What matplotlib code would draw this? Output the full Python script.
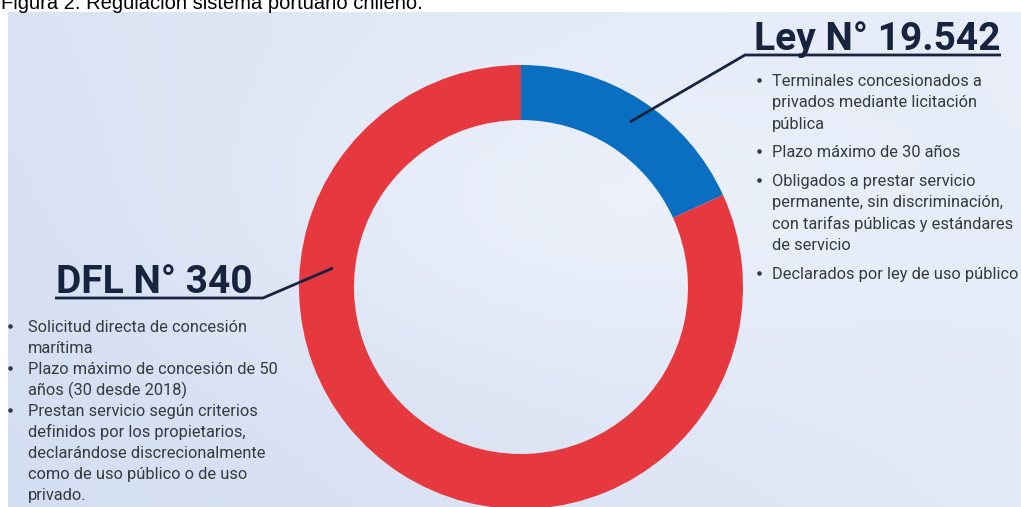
import numpy as np
import matplotlib.pyplot as plt

# data
labels = ['Ley N° 19.542', 'DFL N° 340']
shares = [18.2, 81.8]
colors = ['#0b6fc1', '#e5383f']

title = 'Figura 2. Regulación sistema portuario chileno.'

ley_items = [
    ['Terminales concesionados a', 'privados mediante licitación', 'pública'],
    ['Plazo máximo de 30 años'],
    ['Obligados a prestar servicio', 'permanente, sin discriminación,',
     'con tarifas públicas y estándares', 'de servicio'],
    ['Declarados por ley de uso público'],
]
dfl_items = [
    ['Solicitud directa de concesión', 'marítima'],
    ['Plazo máximo de concesión de 50', 'años (30 desde 2018)'],
    ['Prestan servicio según criterios', 'definidos por los propietarios,',
     'declarándose discrecionalmente', 'como de uso público o de uso',
     'privado.'],
]

W, H = 1021, 507
fig = plt.figure(figsize=(W / 100, H / 100), dpi=100)
ax = fig.add_axes([0, 0, 1, 1])


def Y(yp):
    # pixel row (from top) -> data y
    return H - yp


# soft watercolor-like background panel
gx, gy = np.meshgrid(np.linspace(0, 1, 200), np.linspace(0, 1, 100))
bg = 0.45 * gx + 0.2 * (1 - gy) + 0.35 * np.exp(-((gx - 0.55) ** 2 + (gy - 0.4) ** 2) / 0.1)
cmap = plt.matplotlib.colors.LinearSegmentedColormap.from_list('bg', ['#d4def2', '#ebf0fa'])
ax.imshow(bg, extent=[8, W, 0, Y(12)], cmap=cmap, origin='upper', aspect='auto', zorder=0)

cx, cy, r = 521, 287, 222
ax.pie(shares, colors=colors, startangle=90, counterclock=False,
       center=(cx, Y(cy)), radius=r, wedgeprops=dict(width=55, linewidth=0))

ax.set_xlim(0, W)
ax.set_ylim(0, H)
ax.set_aspect('auto')
ax.axis('off')

navy = '#17233f'
txt = '#36393e'

# leader lines + underlines
ax.plot([630, 745, 1001], [Y(122), Y(55), Y(55)], color=navy, lw=2, solid_capstyle='butt', zorder=5)
ax.plot([333, 263, 55], [Y(268), Y(298), Y(298)], color=navy, lw=2, solid_capstyle='butt', zorder=5)

ax.text(754, Y(50), labels[0], fontsize=28, fontweight='bold', color=navy,
        family='Roboto', va='baseline', ha='left')
ax.text(56, Y(293), labels[1], fontsize=28, fontweight='bold', color=navy,
        family='Roboto', va='baseline', ha='left')

fam = ['Roboto', 'DejaVu Sans']


def bullets(items, x_dot, x_txt, y0, step, gap):
    y = y0
    for item in items:
        ax.plot(x_dot, Y(y) + 6, 'o', ms=3.3, color=txt, mew=0, zorder=5)
        for line in item:
            ax.text(x_txt, Y(y), line, fontsize=11.8, color=txt, family=fam, va='baseline')
            y += step
        y += gap


bullets(ley_items, 759, 772, 86, 21.3, 7.5)
bullets(dfl_items, 10, 28, 332, 21.0, 0)

fig.text(1 / W, 1 - 9 / H, title, fontsize=14.5, family='Liberation Sans', color='black',
         va='baseline', ha='left')

fig.savefig('out.png', dpi=100)
